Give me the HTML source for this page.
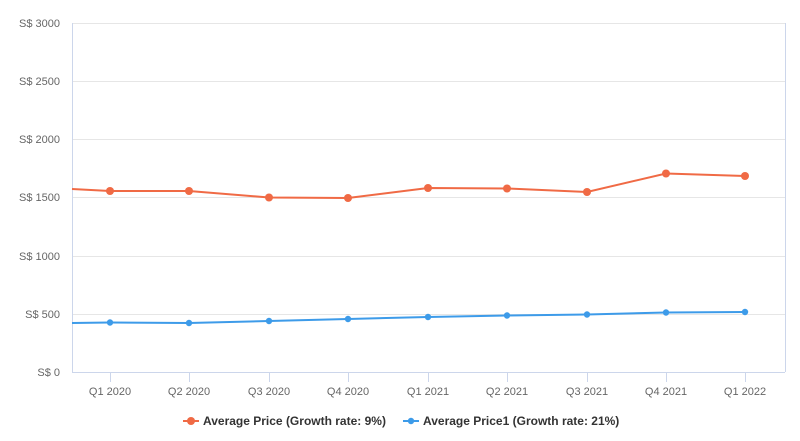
<!DOCTYPE html>
<html><head><style>body{margin:0;background:#fff}</style></head><body>
<svg width="800" height="436" xmlns="http://www.w3.org/2000/svg" font-family="Liberation Sans, sans-serif">
<g stroke="#e6e6e6" stroke-width="1">
<line x1="72" x2="785" y1="23.5" y2="23.5"/><line x1="72" x2="785" y1="81.5" y2="81.5"/><line x1="72" x2="785" y1="139.5" y2="139.5"/><line x1="72" x2="785" y1="197.5" y2="197.5"/><line x1="72" x2="785" y1="256.5" y2="256.5"/><line x1="72" x2="785" y1="314.5" y2="314.5"/>
</g>
<line x1="72.5" x2="72.5" y1="23" y2="372" stroke="#ccd6eb"/>
<line x1="785.5" x2="785.5" y1="23" y2="372" stroke="#ccd6eb"/>
<line x1="72" x2="785" y1="372.5" y2="372.5" stroke="#ccd6eb"/>
<g stroke="#ccd6eb"><line x1="110.5" x2="110.5" y1="372" y2="382"/><line x1="189.5" x2="189.5" y1="372" y2="382"/><line x1="269.5" x2="269.5" y1="372" y2="382"/><line x1="348.5" x2="348.5" y1="372" y2="382"/><line x1="428.5" x2="428.5" y1="372" y2="382"/><line x1="507.5" x2="507.5" y1="372" y2="382"/><line x1="587.5" x2="587.5" y1="372" y2="382"/><line x1="666.5" x2="666.5" y1="372" y2="382"/><line x1="745.5" x2="745.5" y1="372" y2="382"/></g>
<g font-size="11" fill="#666" text-anchor="end">
<text x="60" y="27">S$ 3000</text><text x="60" y="85">S$ 2500</text><text x="60" y="143">S$ 2000</text><text x="60" y="201">S$ 1500</text><text x="60" y="260">S$ 1000</text><text x="60" y="318">S$ 500</text><text x="60" y="376">S$ 0</text>
</g>
<g font-size="11" fill="#666" text-anchor="middle">
<text x="110" y="395">Q1 2020</text><text x="189" y="395">Q2 2020</text><text x="269" y="395">Q3 2020</text><text x="348" y="395">Q4 2020</text><text x="428" y="395">Q1 2021</text><text x="507" y="395">Q2 2021</text><text x="587" y="395">Q3 2021</text><text x="666" y="395">Q4 2021</text><text x="745" y="395">Q1 2022</text>
</g>
<polyline fill="none" stroke="#f06a45" stroke-width="2" points="72,189 110,191 189,191 269,197.5 348,198 428,188 507,188.5 587,192 666,173.5 745,176"/>
<g fill="#f06a45"><circle cx="110" cy="191" r="4"/><circle cx="189" cy="191" r="4"/><circle cx="269" cy="197.5" r="4"/><circle cx="348" cy="198" r="4"/><circle cx="428" cy="188" r="4"/><circle cx="507" cy="188.5" r="4"/><circle cx="587" cy="192" r="4"/><circle cx="666" cy="173.5" r="4"/><circle cx="745" cy="176" r="4"/></g>
<polyline fill="none" stroke="#3d9be9" stroke-width="2" points="72,323 110,322.5 189,323 269,321 348,319 428,317 507,315.5 587,314.5 666,312.5 745,312"/>
<g fill="#3d9be9"><circle cx="110" cy="322.5" r="3.2"/><circle cx="189" cy="323" r="3.2"/><circle cx="269" cy="321" r="3.2"/><circle cx="348" cy="319" r="3.2"/><circle cx="428" cy="317" r="3.2"/><circle cx="507" cy="315.5" r="3.2"/><circle cx="587" cy="314.5" r="3.2"/><circle cx="666" cy="312.5" r="3.2"/><circle cx="745" cy="312" r="3.2"/></g>
<line x1="183" x2="199" y1="421" y2="421" stroke="#f06a45" stroke-width="2"/><circle cx="191" cy="421" r="4" fill="#f06a45"/>
<text x="203" y="425" font-size="12" font-weight="bold" fill="#333">Average Price (Growth rate: 9%)</text>
<line x1="403" x2="419" y1="421" y2="421" stroke="#3d9be9" stroke-width="2"/><circle cx="411" cy="421" r="3.2" fill="#3d9be9"/>
<text x="423" y="425" font-size="12" font-weight="bold" fill="#333">Average Price1 (Growth rate: 21%)</text>
</svg>
</body></html>
